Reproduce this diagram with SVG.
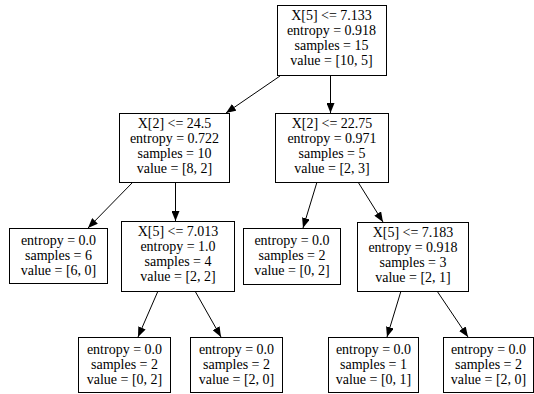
<svg xmlns="http://www.w3.org/2000/svg" width="534" height="394" viewBox="0 0 534 394">
<style>
rect{fill:#fff;stroke:#000;stroke-width:1}
text{font-family:"Liberation Serif","Times New Roman",serif;font-size:14px;text-anchor:middle;fill:#000}
.e{stroke:#000;stroke-width:1;fill:none;marker-end:url(#ah)}
</style>
<defs>
<marker id="ah" markerWidth="10" markerHeight="8" refX="10" refY="4" orient="auto" markerUnits="userSpaceOnUse">
<path d="M0,0 L10,4 L0,8 Z" fill="#000"/>
</marker>
</defs>
<rect x="0" y="0" width="534" height="394" style="fill:#fff;stroke:none"/>
<g id="edges">
<line class="e" x1="280" y1="76" x2="226" y2="113"/>
<line class="e" x1="330.5" y1="76" x2="330.5" y2="113"/>
<line class="e" x1="133" y1="182" x2="88" y2="228"/>
<line class="e" x1="175.5" y1="182" x2="175.5" y2="221"/>
<line class="e" x1="317" y1="182" x2="303" y2="228"/>
<line class="e" x1="358" y1="182" x2="383" y2="222"/>
<line class="e" x1="158" y1="291" x2="138" y2="337"/>
<line class="e" x1="195" y1="291" x2="221" y2="337"/>
<line class="e" x1="401" y1="291" x2="387" y2="337"/>
<line class="e" x1="437" y1="291" x2="468" y2="337"/>
</g>
<g id="n0">
<rect x="277.5" y="5.5" width="109" height="70"/>
<text x="331.5" y="20">X[5] &lt;= 7.133</text>
<text x="331.5" y="35">entropy = 0.918</text>
<text x="331.5" y="50">samples = 15</text>
<text x="331.5" y="65">value = [10, 5]</text>
</g>
<g id="n1">
<rect x="119.5" y="113.5" width="110" height="69"/>
<text x="174.5" y="128">X[2] &lt;= 24.5</text>
<text x="174.5" y="143">entropy = 0.722</text>
<text x="174.5" y="158">samples = 10</text>
<text x="174.5" y="173">value = [8, 2]</text>
</g>
<g id="n2">
<rect x="275.5" y="113.5" width="113" height="69"/>
<text x="332" y="128">X[2] &lt;= 22.75</text>
<text x="332" y="143">entropy = 0.971</text>
<text x="332" y="158">samples = 5</text>
<text x="332" y="173">value = [2, 3]</text>
</g>
<g id="n3">
<rect x="9.5" y="228.5" width="98" height="55"/>
<text x="58.5" y="245">entropy = 0.0</text>
<text x="58.5" y="260">samples = 6</text>
<text x="58.5" y="275">value = [6, 0]</text>
</g>
<g id="n4">
<rect x="121.5" y="221.5" width="113" height="70"/>
<text x="178" y="236">X[5] &lt;= 7.013</text>
<text x="178" y="251">entropy = 1.0</text>
<text x="178" y="266">samples = 4</text>
<text x="178" y="281">value = [2, 2]</text>
</g>
<g id="n5">
<rect x="243.5" y="228.5" width="97" height="56"/>
<text x="292" y="245">entropy = 0.0</text>
<text x="292" y="260">samples = 2</text>
<text x="292" y="275">value = [0, 2]</text>
</g>
<g id="n6">
<rect x="357.5" y="222.5" width="111" height="69"/>
<text x="413" y="237">X[5] &lt;= 7.183</text>
<text x="413" y="252">entropy = 0.918</text>
<text x="413" y="267">samples = 3</text>
<text x="413" y="282">value = [2, 1]</text>
</g>
<g id="n7">
<rect x="78.5" y="337.5" width="92" height="55"/>
<text x="124.5" y="354">entropy = 0.0</text>
<text x="124.5" y="369">samples = 2</text>
<text x="124.5" y="384">value = [0, 2]</text>
</g>
<g id="n8">
<rect x="190.5" y="337.5" width="92" height="55"/>
<text x="236.5" y="354">entropy = 0.0</text>
<text x="236.5" y="369">samples = 2</text>
<text x="236.5" y="384">value = [2, 0]</text>
</g>
<g id="n9">
<rect x="328.5" y="337.5" width="90" height="55"/>
<text x="373.5" y="354">entropy = 0.0</text>
<text x="373.5" y="369">samples = 1</text>
<text x="373.5" y="384">value = [0, 1]</text>
</g>
<g id="n10">
<rect x="443.5" y="337.5" width="90" height="55"/>
<text x="488.5" y="354">entropy = 0.0</text>
<text x="488.5" y="369">samples = 2</text>
<text x="488.5" y="384">value = [2, 0]</text>
</g>
</svg>
